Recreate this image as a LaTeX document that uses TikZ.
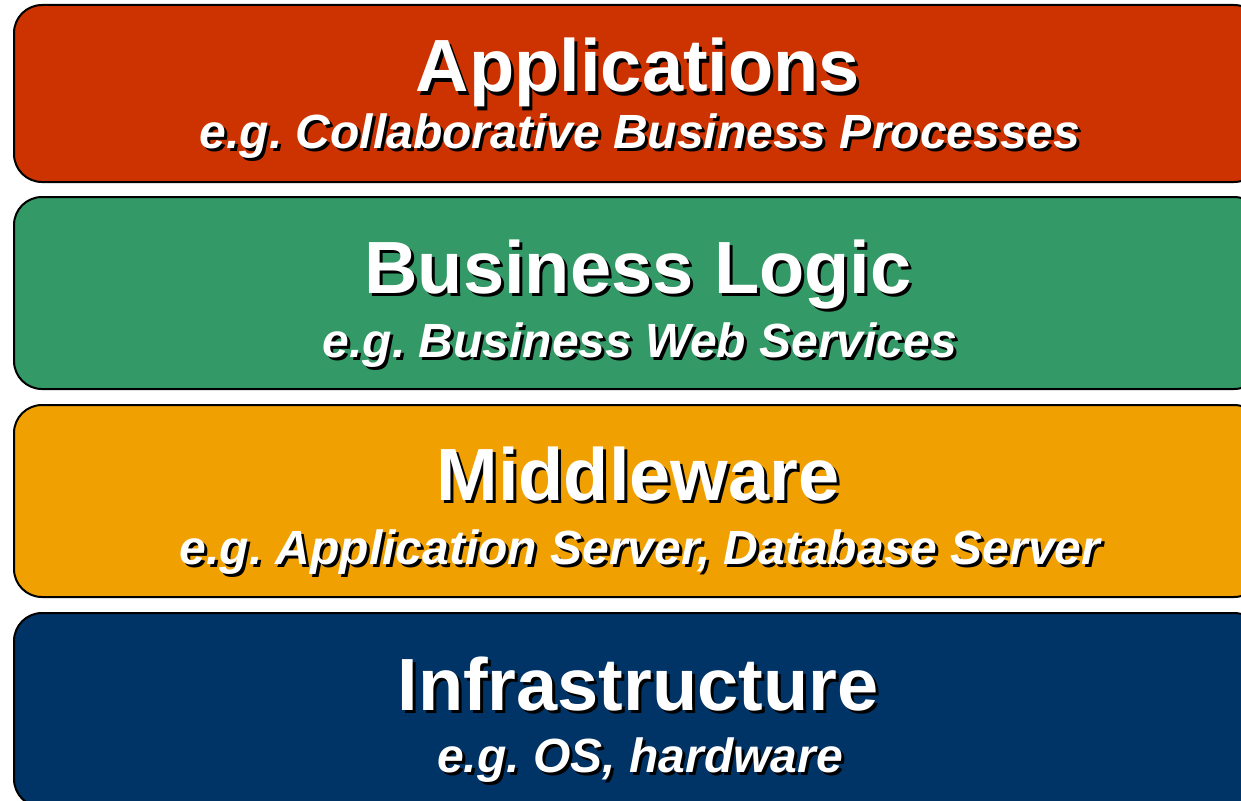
\documentclass[tikz,border=0pt]{standalone}
\usepackage{fontspec}
\setmainfont{Liberation Sans}
\frenchspacing
\begin{document}
\begin{tikzpicture}[x=1pt,y=-1pt]
\definecolor{appred}{HTML}{CC3300}
\definecolor{bizgreen}{HTML}{339966}
\definecolor{midorange}{HTML}{F0A000}
\definecolor{infnavy}{HTML}{003366}
\tikzset{
  layer/.style={draw=black, line width=2pt, rounded corners=28pt, minimum width=1248pt, inner sep=0pt},
  title/.style={font=\fontsize{74}{80}\selectfont\bfseries, anchor=base, inner sep=0pt},
  sub/.style={font=\fontsize{48}{54}\selectfont\bfseries\itshape\frenchspacing, anchor=base, inner sep=0pt},
  shade/.style={text=black},
  lbl/.style={text=white}
}
\clip (0,0) rectangle (1241,800);
% boxes
\node[layer, fill=appred, minimum height=177pt] (app) at (638,93.5) {};
\node[layer, fill=bizgreen, minimum height=192pt] (biz) at (638,293) {};
\node[layer, fill=midorange, minimum height=192pt] (mid) at (638,501) {};
\node[layer, fill=infnavy, minimum height=194pt] (inf) at (638,710) {};
% Applications
\node[title, shade] (appTs) at (641,95) {Applications};
\node[title, lbl] (appT) at (638,92) {Applications};
\node[sub, shade] (appSs) at (643,151) {e.g. Collaborative Business Processes};
\node[sub, lbl] (appS) at (640,148) {e.g. Collaborative Business Processes};
% Business Logic
\node[title, shade] (bizTs) at (641,296) {Business Logic};
\node[title, lbl] (bizT) at (638,293) {Business Logic};
\node[sub, shade] (bizSs) at (643,360) {e.g. Business Web Services};
\node[sub, lbl] (bizS) at (640,357) {e.g. Business Web Services};
% Middleware
\node[title, shade] (midTs) at (641,503) {Middleware};
\node[title, lbl] (midT) at (638,500) {Middleware};
\node[sub, shade] (midSs) at (643,567) {e.g. Application Server, Database Server};
\node[sub, lbl] (midS) at (640,564) {e.g. Application Server, Database Server};
% Infrastructure
\node[title, shade] (infTs) at (641,713) {Infrastructure};
\node[title, lbl] (infT) at (638,710) {Infrastructure};
\node[sub, shade] (infSs) at (643,775) {e.g. OS, hardware};
\node[sub, lbl] (infS) at (640,772) {e.g. OS, hardware};
\end{tikzpicture}
\end{document}
